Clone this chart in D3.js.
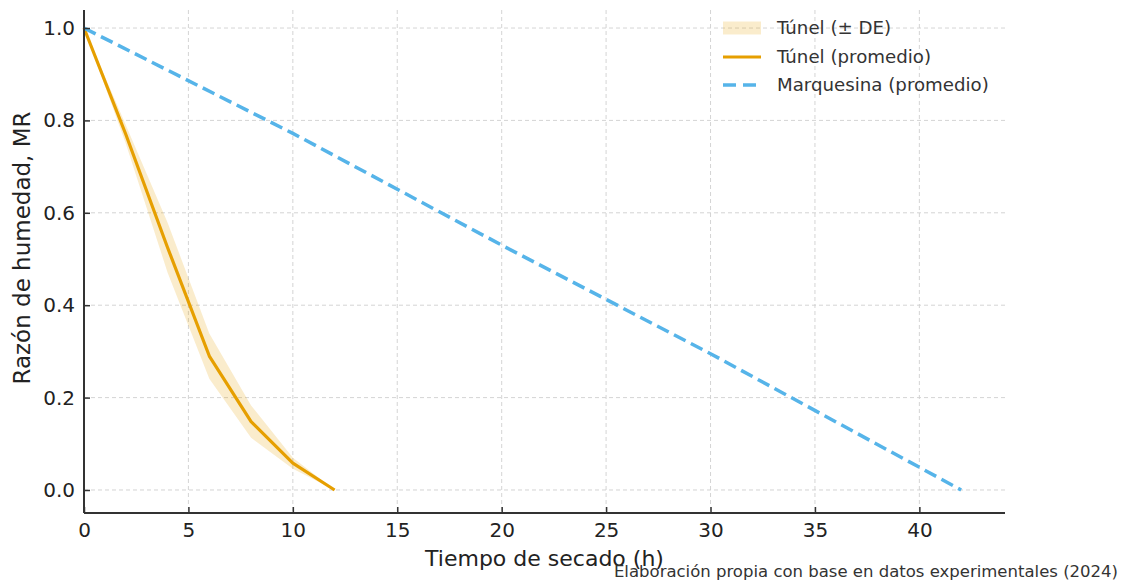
<!DOCTYPE html>
<html><head><meta charset="utf-8">
<script src="https://cdn.jsdelivr.net/npm/d3@7"></script>
<style>
html,body{margin:0;padding:0;background:#fff;}
svg{display:block;font-family:"DejaVu Sans",sans-serif;}
</style></head>
<body>
<svg id="chart" width="1122" height="582"></svg>
<script>
// Data
const tunelTime = [0, 2, 4, 6, 8, 10, 12];
const tunelMR   = [1.0, 0.77, 0.525, 0.29, 0.148, 0.058, 0.0];
const tunelSD   = [0.0, 0.02, 0.054, 0.049, 0.035, 0.012, 0.0];
const marqTime  = [0, 10, 20, 30, 42];
const marqMR    = [1.0, 0.772, 0.53, 0.295, 0.0];
const xTicks = [0, 5, 10, 15, 20, 25, 30, 35, 40];
const yTicks = [0.0, 0.2, 0.4, 0.6, 0.8, 1.0];
const legendLabels = ["Túnel (± DE)", "Túnel (promedio)", "Marquesina (promedio)"];
const xLabel = "Tiempo de secado (h)";
const yLabel = "Razón de humedad, MR";
const footnote = "Elaboración propia con base en datos experimentales (2024)";

const orange = "#E69F00", blue = "#56B4E9";
const svg = d3.select("#chart");
const L = 84, R = 1005, T = 10, B = 513;
const x = d3.scaleLinear().domain([0, 44.1]).range([L, R]);
const y = d3.scaleLinear().domain([-0.0498, 1.039]).range([B, T]);

// grid
const g = svg.append("g");
g.selectAll("line.vg").data(xTicks).join("line")
  .attr("x1", d => x(d)).attr("x2", d => x(d)).attr("y1", T).attr("y2", B)
  .attr("stroke", "#cfcfcf").attr("stroke-width", 0.9).attr("stroke-dasharray", "4,3");
g.selectAll("line.hg").data(yTicks).join("line")
  .attr("y1", d => y(d)).attr("y2", d => y(d)).attr("x1", L).attr("x2", R)
  .attr("stroke", "#cfcfcf").attr("stroke-width", 0.9).attr("stroke-dasharray", "4,3");

// band
const tun = tunelTime.map((t, i) => ({t, m: tunelMR[i], s: tunelSD[i]}));
svg.append("path").datum(tun)
  .attr("d", d3.area().x(d => x(d.t)).y0(d => y(d.m - d.s)).y1(d => y(d.m + d.s)))
  .attr("fill", orange).attr("fill-opacity", 0.2);
// tunnel mean
svg.append("path").datum(tun)
  .attr("d", d3.line().x(d => x(d.t)).y(d => y(d.m)))
  .attr("fill", "none").attr("stroke", orange).attr("stroke-width", 3.2)
  .attr("stroke-linejoin", "round");
// marquesina
const mq = marqTime.map((t, i) => ({t, m: marqMR[i]}));
svg.append("path").datum(mq)
  .attr("d", d3.line().x(d => x(d.t)).y(d => y(d.m)))
  .attr("fill", "none").attr("stroke", blue).attr("stroke-width", 3.5)
  .attr("stroke-dasharray", "13,6");

// axes
const xAxis = d3.axisBottom(x).tickValues(xTicks).tickFormat(d3.format("d")).tickSizeInner(-6).tickSizeOuter(0).tickPadding(10);
const yAxis = d3.axisLeft(y).tickValues(yTicks).tickFormat(d3.format(".1f")).tickSizeInner(-6).tickSizeOuter(0).tickPadding(9);
const gx = svg.append("g").attr("transform", `translate(0,${B})`).call(xAxis);
const gy = svg.append("g").attr("transform", `translate(${L},0)`).call(yAxis);
[gx, gy].forEach(a => {
  a.select(".domain").attr("stroke", "#333").attr("stroke-width", 2);
  a.selectAll(".tick line").attr("stroke", "#333").attr("stroke-width", 1.5);
  a.selectAll(".tick text").attr("fill", "#222").attr("font-size", 20).attr("font-family", "DejaVu Sans");
});
gy.select(".domain").attr("d", `M0,${T}V${B}`);
gx.select(".domain").attr("d", `M${L},0H${R}`);

// labels
svg.append("text").attr("x", (L + R) / 2).attr("y", 566).attr("text-anchor", "middle")
  .attr("font-size", 22).attr("fill", "#222").text(xLabel);
svg.append("text").attr("transform", `translate(30,248) rotate(-90)`).attr("text-anchor", "middle")
  .attr("font-size", 23).attr("fill", "#222").text(yLabel);
svg.append("text").attr("x", 1118).attr("y", 577).attr("text-anchor", "end")
  .attr("font-size", 16.5).attr("fill", "#333").text(footnote);

// legend
const lg = svg.append("g");
const lx = 723, lw = 38, ly = [28, 57, 85];
lg.append("rect").attr("x", lx).attr("y", ly[0] - 6.5).attr("width", lw).attr("height", 13)
  .attr("fill", orange).attr("fill-opacity", 0.2);
lg.append("line").attr("x1", lx).attr("x2", lx + lw).attr("y1", ly[1]).attr("y2", ly[1])
  .attr("stroke", orange).attr("stroke-width", 3.2);
lg.append("line").attr("x1", lx).attr("x2", lx + lw).attr("y1", ly[2]).attr("y2", ly[2])
  .attr("stroke", blue).attr("stroke-width", 3.5).attr("stroke-dasharray", "13,7");
lg.selectAll("text").data(legendLabels).join("text")
  .attr("x", 777).attr("y", (d, i) => ly[i]).attr("dy", "0.35em")
  .attr("font-size", 18.2).attr("fill", "#333").text(d => d);
</script>
</body></html>
